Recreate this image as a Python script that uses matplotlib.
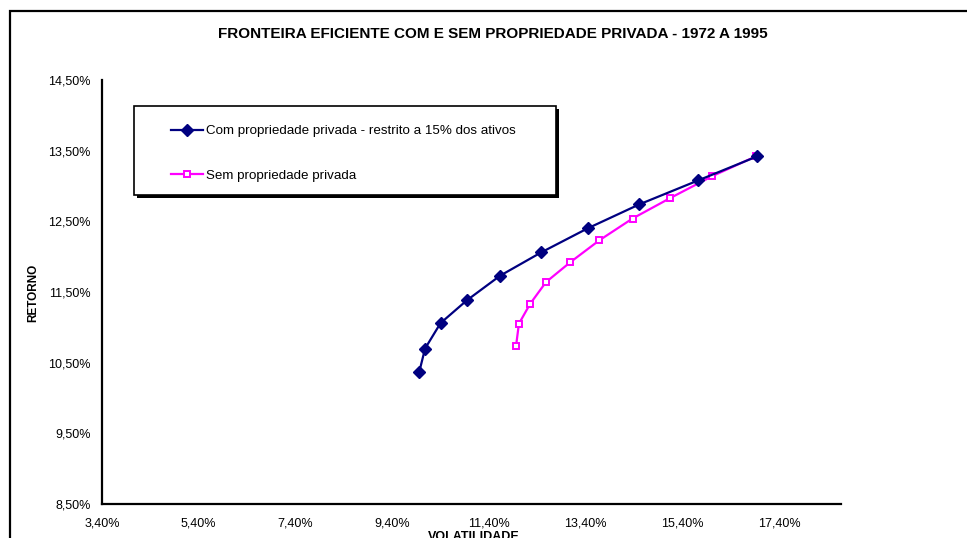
import matplotlib.pyplot as plt
from matplotlib.patches import Rectangle
from matplotlib.ticker import FuncFormatter

plt.rcParams['font.family'] = ['Liberation Sans', 'DejaVu Sans']

# fronteira com propriedade privada (restrita a 15% dos ativos)
vol_com = [9.96, 10.08, 10.40, 10.94, 11.63, 12.48, 13.44, 14.51, 15.73, 16.95]
ret_com = [10.37, 10.70, 11.06, 11.38, 11.73, 12.06, 12.40, 12.74, 13.08, 13.42]

# fronteira sem propriedade privada
vol_sem = [11.96, 12.02, 12.25, 12.58, 13.08, 13.68, 14.37, 15.15, 16.02, 16.92]
ret_sem = [10.73, 11.05, 11.33, 11.64, 11.92, 12.23, 12.54, 12.83, 13.14, 13.42]

x_ticks = [3.4, 5.4, 7.4, 9.4, 11.4, 13.4, 15.4, 17.4]
y_ticks = [8.5, 9.5, 10.5, 11.5, 12.5, 13.5, 14.5]

lbl_com = 'Com propriedade privada - restrito a 15% dos ativos'
lbl_sem = 'Sem propriedade privada'

W, H = 967, 538
fig = plt.figure(figsize=(W / 100, H / 100), dpi=100)
ax = fig.add_axes([102 / W, 1 - 504 / H, (841 - 102) / W, (504 - 80) / H])

ax.plot(vol_com, ret_com, color='#000080', lw=1.6, marker='D', ms=6.5,
        mfc='#000080', mec='#000080', label=lbl_com, zorder=3)
ax.plot(vol_sem, ret_sem, color='#FF00FF', lw=1.6, marker='s', ms=3.8,
        mfc='white', mec='#FF00FF', mew=1.4, label=lbl_sem, zorder=2)

ax.set_xlim(3.4, 18.68)
ax.set_ylim(8.5, 14.5)
ax.set_xticks(x_ticks)
ax.set_yticks(y_ticks)
pct = FuncFormatter(lambda v, p: f'{v:.2f}%'.replace('.', ','))
ax.xaxis.set_major_formatter(pct)
ax.yaxis.set_major_formatter(pct)
ax.tick_params(length=0, labelsize=9)
ax.tick_params(axis='y', pad=8)
ax.tick_params(axis='x', pad=10)
for s in ['top', 'right']:
    ax.spines[s].set_visible(False)
for s in ['left', 'bottom']:
    ax.spines[s].set_linewidth(1.6)

fig.text(493 / W, 1 - 34 / H, 'FRONTEIRA EFICIENTE COM E SEM PROPRIEDADE PRIVADA - 1972 A 1995',
         ha='center', va='center', fontsize=11, fontweight='bold')
fig.text(33 / W, 1 - 293 / H, 'RETORNO', rotation=90, ha='center', va='center',
         fontsize=8.5, fontweight='bold')
fig.text(474 / W, 1 - 540 / H, 'VOLATILIDADE', ha='center', va='baseline',
         fontsize=9, fontweight='bold')

# moldura do grafico
fig.patches.append(Rectangle((10 / W, -0.05), 1.1, 1 - 11 / H + 0.05, transform=fig.transFigure,
                             fill=False, ec='black', lw=1.6))

# caixa da legenda com sombra
fig.patches.append(Rectangle((137 / W, 1 - 198 / H), 422 / W, 89 / H, transform=fig.transFigure,
                             fc='black', ec='black', lw=0, zorder=4))
fig.patches.append(Rectangle((134 / W, 1 - 195 / H), 422 / W, 89 / H, transform=fig.transFigure,
                             fc='white', ec='black', lw=1.2, zorder=5))
leg = fig.legend(loc='upper left', bbox_to_anchor=(171 / W, 1 - 125 / H),
                 frameon=False, borderpad=0, borderaxespad=0, fontsize=9.6,
                 handlelength=2.4, handletextpad=0.2, labelspacing=2.4)
leg.set_zorder(6)

fig.savefig('out.png', dpi=100)
